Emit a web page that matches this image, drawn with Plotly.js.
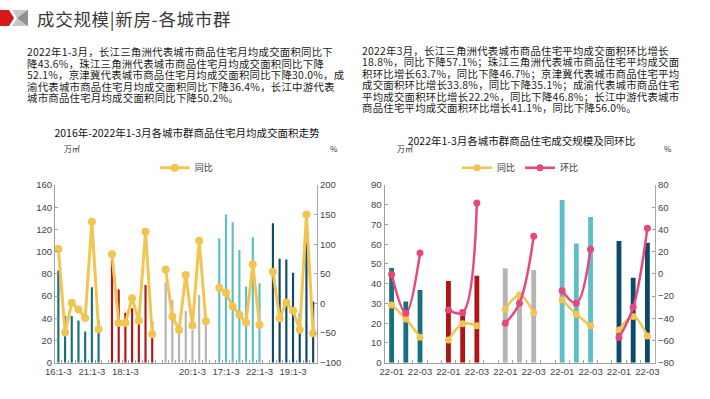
<!DOCTYPE html>
<html><head><meta charset="utf-8">
<script src="https://cdn.plot.ly/plotly-3.0.1.min.js"></script>
<style>
body{margin:0;width:710px;height:399px;overflow:hidden;background:#fff;font-family:"Noto Sans CJK SC",sans-serif;}
#chart{position:absolute;left:0;top:0;width:710px;height:399px;}
.t{position:absolute;white-space:nowrap;color:#222;}
.p{font-size:10.4px;line-height:11.5px;color:#1a1a1a;letter-spacing:0.25px;}
.c{transform:translateX(-50%);}
</style></head><body>
<div id="chart"></div>
<svg style="position:absolute;left:0;top:0" width="40" height="40">
<polygon points="0,10 9,10 14,18 9,26 0,26" fill="#d7191c"/>
<polygon points="12,10 28,10 28,26 12,26 17,18" fill="#c8c8c8"/>
<polygon points="17,18 28,10 28,26" fill="#8f8f8f"/>
</svg>
<div class="t" style="left:37px;top:8px;font-size:17.5px;line-height:22px;color:#3a3a3a;letter-spacing:0.7px;">成交规模|新房-各城市群</div>
<div class="t p" style="left:27px;top:46px;">2022年1-3月，长江三角洲代表城市商品住宅月均成交面积同比下<br>降43.6%，珠江三角洲代表城市商品住宅月均成交面积同比下降<br>52.1%，京津冀代表城市商品住宅月均成交面积同比下降30.0%，成<br>渝代表城市商品住宅月均成交面积同比下降36.4%，长江中游代表<br>城市商品住宅月均成交面积同比下降50.2%。</div>
<div class="t p" style="left:362px;top:44.5px;">2022年3月，长江三角洲代表城市商品住宅平均成交面积环比增长<br>18.8%，同比下降57.1%；珠江三角洲代表城市商品住宅平均成交面<br>积环比增长63.7%，同比下降46.7%；京津冀代表城市商品住宅平均<br>成交面积环比增长33.8%，同比下降35.1%；成渝代表城市商品住宅<br>平均成交面积环比增长22.2%，同比下降46.8%；长江中游代表城市<br>商品住宅平均成交面积环比增长41.1%，同比下降56.0%。</div>
<div class="t c" style="left:187px;top:126px;font-size:10.5px;line-height:13px;color:#111;">2016年-2022年1-3月各城市群商品住宅月均成交面积走势</div>
<div class="t c" style="left:521.5px;top:133.5px;font-size:10.5px;line-height:13px;color:#111;">2022年1-3月各城市群商品住宅成交规模及同环比</div>
<div class="t" style="left:64px;top:144px;font-size:8px;line-height:10px;color:#333;">万㎡</div>
<div class="t" style="left:330px;top:144px;font-size:8px;line-height:10px;color:#333;">%</div>
<div class="t" style="left:397px;top:144px;font-size:8px;line-height:10px;color:#333;">万㎡</div>
<div class="t" style="left:664px;top:144px;font-size:8px;line-height:10px;color:#333;">%</div>
<script>
// ---- data ----
const groupNames = ['长三角','珠三角','京津冀','成渝','长江中游'];
const groupColors = ['#17707c','#b01414','#b5b5b5','#5cbfc7','#0c4a6b'];
const yearLabels = ['16:1-3','17:1-3','18:1-3','19:1-3','20:1-3','21:1-3','22:1-3'];
// left chart: monthly average area (万㎡) and yoy (%)
const areaCSJ  = [83, 42, 42, 38, 28, 68, 38];
const areaZSJ  = [97, 66, 45, 49, 37, 70, 37];
const areaJJJ  = [72.5, 56.5, 35, 46.5, 29.5, 61, 41];
const areaCY   = [112, 133.5, 126.5, 101.5, 68.5, 113, 71.5];
const areaCJZY = [125.5, 93.5, 93, 81, 44.5, 111, 55];
const yoyCSJ  = [92, -49, 1, -10, -24.5, 138, -43.6];
const yoyZSJ  = [83, -33, -33, 9, -29, 121, -52.1];
const yoyJJJ  = [57.5, -22, -45, 48, -37, 106, -30.0];
const yoyCY   = [26.5, 18, -5, -19, -32, 66, -36.4];
const yoyCJZY = [53.5, -25, 1.5, -12.5, -44.5, 150, -50.2];
// right chart: 2022 monthly area (万㎡), yoy and mom (%)
const monthLabels = ['22-01','22-02','22-03'];
const volCSJ  = [48, 31, 36.8];
const volZSJ  = [41.4, 27, 44];
const volJJJ  = [47.8, 35.1, 47];
const volCY   = [82.4, 60.4, 73.8];
const volCJZY = [61.6, 43, 60.8];
const ryoyCSJ  = [-28, -40.6, -57.1];
const ryoyZSJ  = [-59.5, -45, -46.7];
const ryoyJJJ  = [-32, -19, -35.1];
const ryoyCY   = [-23.5, -36.4, -46.8];
const ryoyCJZY = [-50.5, -38.5, -56.0];
const momCSJ  = [-0.5, -35.5, 18.8];
const momZSJ  = [-32.5, -35, 63.7];
const momJJJ  = [-44.5, -26.5, 33.8];
const momCY   = [-15.2, -26.5, 22.2];
const momCJZY = [-57.4, -30.1, 41.1];

const leftArea = [areaCSJ, areaZSJ, areaJJJ, areaCY, areaCJZY];
const leftYoy = [yoyCSJ, yoyZSJ, yoyJJJ, yoyCY, yoyCJZY];
const rightVol = [volCSJ, volZSJ, volJJJ, volCY, volCJZY];
const rightYoy = [ryoyCSJ, ryoyZSJ, ryoyJJJ, ryoyCY, ryoyCJZY];
const rightMom = [momCSJ, momZSJ, momJJJ, momCY, momCJZY];

// ---- build ----
const traces = [];
const leftCats = [], lx = [], ly = [];
let idx = 0;
leftArea.forEach((arr, g) => {
  const xs = [];
  arr.forEach((v, i) => { xs.push(idx); leftCats.push(yearLabels[i]); lx.push(idx); ly.push(leftYoy[g][i]); idx++; });
  traces.push({type:'bar', x:xs, y:arr, width:0.32, marker:{color:groupColors[g]}, name:groupNames[g], showlegend:false, xaxis:'x', yaxis:'y', hoverinfo:'skip'});
  if (g < leftArea.length - 1) { leftCats.push(''); lx.push(idx); ly.push(null); idx++; }
});
traces.push({type:'scatter', mode:'lines+markers', x:lx, y:ly, name:'同比', connectgaps:false,
  line:{color:'#f1c550', width:3}, marker:{color:'#f1c550', size:8}, xaxis:'x', yaxis:'y2', legend:'legend'});

const rightCats = [], rx = [], ryy = [], rmm = [];
idx = 0;
rightVol.forEach((arr, g) => {
  const xs = [];
  arr.forEach((v, i) => { xs.push(idx); rightCats.push(monthLabels[i]); rx.push(idx); ryy.push(rightYoy[g][i]); rmm.push(rightMom[g][i]); idx++; });
  traces.push({type:'bar', x:xs, y:arr, width:0.34, marker:{color:groupColors[g]}, name:groupNames[g], showlegend:false, xaxis:'x2', yaxis:'y3', hoverinfo:'skip'});
  if (g < rightVol.length - 1) { rightCats.push(''); rx.push(idx); ryy.push(null); rmm.push(null); idx++; }
});
traces.push({type:'scatter', mode:'lines+markers', x:rx, y:ryy, name:'同比', connectgaps:false,
  line:{color:'#f1c550', width:2.5, shape:'spline', smoothing:1}, marker:{color:'#f1c550', size:7}, xaxis:'x2', yaxis:'y4', legend:'legend2'});
traces.push({type:'scatter', mode:'lines+markers', x:rx, y:rmm, name:'环比', connectgaps:false,
  line:{color:'#e8467c', width:2.5, shape:'spline', smoothing:1}, marker:{color:'#e8467c', size:7}, xaxis:'x2', yaxis:'y4', legend:'legend2'});

const ltv = leftCats.map((c,i)=>i).filter(i => i % 5 === 0);
const rtv = rightCats.map((c,i)=>i).filter(i => i % 2 === 0);
const tf = {family:'Liberation Sans, Arial, sans-serif', size:9.5, color:'#444'};
const yb = 1 - 362.7/399, yt = 1 - 185/399;
const baseX = {showline:true, linecolor:'#a0a0a0', linewidth:1, showgrid:false, zeroline:false, tickmode:'array', ticks:'', tickfont:tf, fixedrange:true};
const baseY = {showline:true, linecolor:'#a0a0a0', linewidth:1, showgrid:false, zeroline:false, ticks:'inside', ticklen:3, tickcolor:'#a0a0a0', tickfont:tf, fixedrange:true};

const layout = {
  width:710, height:399, margin:{l:0,r:0,t:0,b:0}, paper_bgcolor:'#fff', plot_bgcolor:'rgba(0,0,0,0)',
  barmode:'overlay', showlegend:true, hovermode:false,
  xaxis: Object.assign({}, baseX, {domain:[55/710, 316.5/710], anchor:'y', range:[-0.5, leftCats.length-0.5],
    tickvals:ltv, ticktext:ltv.map(i=>leftCats[i]),
    minor:{tickmode:'array', tickvals:leftCats.map((c,i)=>i+0.5).slice(0,-1), ticks:'inside', ticklen:3, tickcolor:'#a0a0a0'}}),
  yaxis: Object.assign({}, baseY, {domain:[yb, yt], anchor:'x', range:[0,160], dtick:20}),
  yaxis2: Object.assign({}, baseY, {overlaying:'y', side:'right', anchor:'x', range:[-100,200], dtick:50, linewidth:1.5, linecolor:'#aaaaaa'}),
  xaxis2: Object.assign({}, baseX, {domain:[384.5/710, 654.5/710], anchor:'y3', range:[-0.5, rightCats.length-0.5],
    tickvals:rtv, ticktext:rtv.map(i=>rightCats[i]),
    minor:{tickmode:'array', tickvals:rightCats.map((c,i)=>i+0.5).slice(0,-1), ticks:'inside', ticklen:3, tickcolor:'#a0a0a0'}}),
  yaxis3: Object.assign({}, baseY, {domain:[yb, yt], anchor:'x2', range:[0,90], dtick:10}),
  yaxis4: Object.assign({}, baseY, {overlaying:'y3', side:'right', anchor:'x2', range:[-80,80], dtick:20, linewidth:1.5, linecolor:'#aaaaaa'}),
  legend:{orientation:'h', x:186.7/710, xanchor:'center', y:1-167.7/399, yanchor:'middle', font:{family:'Noto Sans CJK SC', size:9, color:'#333'}, itemwidth:30, bgcolor:'rgba(0,0,0,0)'},
  legend2:{orientation:'h', x:520.5/710, xanchor:'center', y:1-167.7/399, yanchor:'middle', font:{family:'Noto Sans CJK SC', size:9, color:'#333'}, itemwidth:30, bgcolor:'rgba(0,0,0,0)'}
};
Plotly.newPlot('chart', traces, layout, {displayModeBar:false, staticPlot:true});
</script>
</body></html>
